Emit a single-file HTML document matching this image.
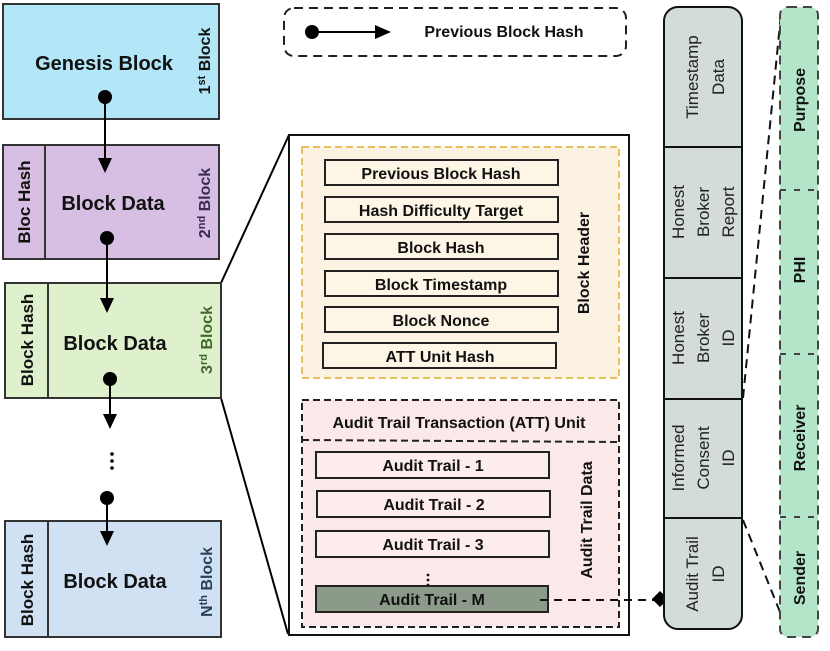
<!DOCTYPE html>
<html><head><meta charset="utf-8"><style>
html,body{margin:0;padding:0;background:#fff}
svg text{font-family:"Liberation Sans",sans-serif;font-weight:bold;fill:#111}
svg text.n{font-weight:normal;fill:#222}
</style></head><body>
<svg width="830" height="646" viewBox="0 0 830 646" xmlns="http://www.w3.org/2000/svg">
<!-- legend -->
<rect x="284" y="8" width="342" height="48" rx="10" fill="#fff" stroke="#222" stroke-width="2" stroke-dasharray="9,6"/>
<circle cx="312" cy="32" r="7" fill="#000"/>
<line x1="312" y1="32" x2="380" y2="32" stroke="#000" stroke-width="2"/>
<path d="M375,25 L391,32 L375,39 Z" fill="#000"/>
<text x="504" y="37" font-size="16" text-anchor="middle">Previous Block Hash</text>

<!-- connectors to panel -->
<line x1="221" y1="283" x2="289" y2="135" stroke="#000" stroke-width="2"/>
<line x1="221" y1="398" x2="288" y2="634" stroke="#000" stroke-width="2"/>

<!-- Genesis -->
<rect x="3" y="4" width="216" height="115" fill="#b3e6f6" stroke="#333" stroke-width="2"/>
<text x="104" y="70" font-size="20" text-anchor="middle">Genesis Block</text>
<text transform="translate(210,61) rotate(-90)" font-size="16" text-anchor="middle">1<tspan font-size="11" dy="-5">st</tspan><tspan dy="5"> Block</tspan></text>

<!-- Block 2 -->
<rect x="3" y="145" width="216" height="114" fill="#d6bfe2" stroke="#333" stroke-width="2"/>
<line x1="45" y1="145" x2="45" y2="259" stroke="#333" stroke-width="2"/>
<text transform="translate(30,202) rotate(-90)" font-size="17" text-anchor="middle">Bloc Hash</text>
<text x="113" y="210" font-size="20" text-anchor="middle">Block Data</text>
<text transform="translate(210,203) rotate(-90)" font-size="16" text-anchor="middle" style="fill:#3a2a55">2<tspan font-size="11" dy="-5">nd</tspan><tspan dy="5"> Block</tspan></text>

<!-- Block 3 -->
<rect x="5" y="283" width="216" height="115" fill="#dff0cd" stroke="#333" stroke-width="2"/>
<line x1="48" y1="283" x2="48" y2="398" stroke="#333" stroke-width="2"/>
<text transform="translate(33,340) rotate(-90)" font-size="17" text-anchor="middle">Block Hash</text>
<text x="115" y="350" font-size="20" text-anchor="middle">Block Data</text>
<text transform="translate(212,340) rotate(-90)" font-size="16" text-anchor="middle" style="fill:#3f6a2a">3<tspan font-size="11" dy="-5">rd</tspan><tspan dy="5"> Block</tspan></text>

<!-- Block N -->
<rect x="5" y="521" width="216" height="116" fill="#cfe1f2" stroke="#333" stroke-width="2"/>
<line x1="48" y1="521" x2="48" y2="637" stroke="#333" stroke-width="2"/>
<text transform="translate(33,580) rotate(-90)" font-size="17" text-anchor="middle">Block Hash</text>
<text x="115" y="588" font-size="20" text-anchor="middle">Block Data</text>
<text transform="translate(212,582) rotate(-90)" font-size="16" text-anchor="middle" style="fill:#2a3f5a">N<tspan font-size="11" dy="-5">th</tspan><tspan dy="5"> Block</tspan></text>

<!-- chain arrows -->
<g fill="#000" stroke="#000" stroke-width="2">
<circle cx="105" cy="97" r="7" stroke="none"/>
<line x1="105" y1="97" x2="105" y2="162"/>
<path d="M98,158 L112,158 L105,173 Z" stroke="none"/>
<circle cx="107" cy="238" r="7" stroke="none"/>
<line x1="107" y1="238" x2="107" y2="300"/>
<path d="M100,298 L114,298 L107,313 Z" stroke="none"/>
<circle cx="110" cy="379" r="7" stroke="none"/>
<line x1="110" y1="379" x2="110" y2="418"/>
<path d="M103,414 L117,414 L110,429 Z" stroke="none"/>
<circle cx="112" cy="454" r="1.8" stroke="none"/>
<circle cx="112" cy="461" r="1.8" stroke="none"/>
<circle cx="112" cy="468" r="1.8" stroke="none"/>
<circle cx="107" cy="498" r="7" stroke="none"/>
<line x1="107" y1="498" x2="107" y2="535"/>
<path d="M100,531 L114,531 L107,546 Z" stroke="none"/>
</g>

<!-- Panel -->
<rect x="289" y="135" width="340" height="500" fill="#fff" stroke="#111" stroke-width="2"/>
<rect x="302" y="147" width="317" height="231" fill="#fbf2e1" stroke="#e8c060" stroke-width="2" stroke-dasharray="7,4"/>
<g font-size="16" text-anchor="middle">
<rect x="325" y="160" width="233" height="25" fill="#fdf6e6" stroke="#222" stroke-width="2"/><text x="441" y="179">Previous Block Hash</text>
<rect x="325" y="197" width="233" height="25" fill="#fdf6e6" stroke="#222" stroke-width="2"/><text x="441" y="216">Hash Difficulty Target</text>
<rect x="325" y="234" width="233" height="25" fill="#fdf6e6" stroke="#222" stroke-width="2"/><text x="441" y="253">Block Hash</text>
<rect x="325" y="271" width="233" height="25" fill="#fdf6e6" stroke="#222" stroke-width="2"/><text x="441" y="290">Block Timestamp</text>
<rect x="325" y="307" width="233" height="25" fill="#fdf6e6" stroke="#222" stroke-width="2"/><text x="441" y="326">Block Nonce</text>
<rect x="323" y="343" width="233" height="25" fill="#fdf6e6" stroke="#222" stroke-width="2"/><text x="440" y="362">ATT Unit Hash</text>
</g>
<text transform="translate(589,263) rotate(-90)" font-size="16" text-anchor="middle">Block Header</text>

<rect x="302" y="400" width="317" height="227" fill="#fbe8e8" stroke="#222" stroke-width="2" stroke-dasharray="7,4"/>
<line x1="302" y1="440" x2="619" y2="442" stroke="#222" stroke-width="2" stroke-dasharray="7,4"/>
<text x="459" y="428" font-size="16" text-anchor="middle">Audit Trail Transaction (ATT) Unit</text>
<g font-size="16" text-anchor="middle">
<rect x="316" y="452" width="233" height="26" fill="#fcecec" stroke="#222" stroke-width="2"/><text x="433" y="471">Audit Trail - 1</text>
<rect x="317" y="491" width="233" height="26" fill="#fcecec" stroke="#222" stroke-width="2"/><text x="434" y="510">Audit Trail - 2</text>
<rect x="316" y="531" width="233" height="26" fill="#fcecec" stroke="#222" stroke-width="2"/><text x="433" y="550">Audit Trail - 3</text>
<rect x="316" y="586" width="232" height="26" fill="#8b9a89" stroke="#222" stroke-width="2"/><text x="432" y="605">Audit Trail - M</text>
</g>
<g fill="#111"><circle cx="428" cy="575" r="1.4"/><circle cx="428" cy="580" r="1.4"/><circle cx="428" cy="585" r="1.4"/></g>
<text transform="translate(592,520) rotate(-90)" font-size="16" text-anchor="middle">Audit Trail Data</text>

<line x1="540" y1="600" x2="656" y2="600" stroke="#111" stroke-width="2" stroke-dasharray="8,6"/>
<path d="M652,599 L660,591 L668,599 L660,607 Z" fill="#000"/>

<!-- gray column -->
<rect x="664" y="7" width="78" height="622" rx="14" fill="#d3dcd6" stroke="#111" stroke-width="2"/>
<g stroke="#111" stroke-width="2">
<line x1="664" y1="147" x2="742" y2="147"/><line x1="664" y1="278" x2="742" y2="278"/>
<line x1="664" y1="399" x2="742" y2="399"/><line x1="664" y1="518" x2="742" y2="518"/>
</g>
<g font-size="17" text-anchor="middle">
<text class="n" transform="translate(703,77) rotate(-90)"><tspan x="0" dy="-5">Timestamp</tspan><tspan x="0" dy="26">Data</tspan></text>
<text class="n" transform="translate(703,212) rotate(-90)"><tspan x="0" dy="-19">Honest</tspan><tspan x="0" dy="25">Broker</tspan><tspan x="0" dy="25">Report</tspan></text>
<text class="n" transform="translate(703,338) rotate(-90)"><tspan x="0" dy="-19">Honest</tspan><tspan x="0" dy="25">Broker</tspan><tspan x="0" dy="25">ID</tspan></text>
<text class="n" transform="translate(703,458) rotate(-90)"><tspan x="0" dy="-19">Informed</tspan><tspan x="0" dy="25">Consent</tspan><tspan x="0" dy="25">ID</tspan></text>
<text class="n" transform="translate(703,574) rotate(-90)"><tspan x="0" dy="-5">Audit Trail</tspan><tspan x="0" dy="26">ID</tspan></text>
</g>

<!-- green column -->
<line x1="743" y1="398" x2="781" y2="14" stroke="#111" stroke-width="2" stroke-dasharray="9,6"/>
<line x1="743" y1="520" x2="780" y2="612" stroke="#111" stroke-width="2" stroke-dasharray="9,6"/>
<rect x="780" y="7" width="38" height="630" rx="8" fill="#b3e6c9" stroke="#444" stroke-width="2" stroke-dasharray="9,6"/>
<g stroke="#444" stroke-width="2" stroke-dasharray="6,8">
<line x1="780" y1="190" x2="818" y2="190"/><line x1="780" y1="354" x2="818" y2="354"/><line x1="780" y1="517" x2="818" y2="517"/>
</g>
<g font-size="16" text-anchor="middle">
<text transform="translate(805,100) rotate(-90)">Purpose</text>
<text transform="translate(805,270) rotate(-90)">PHI</text>
<text transform="translate(805,438) rotate(-90)">Receiver</text>
<text transform="translate(805,578) rotate(-90)">Sender</text>
</g>
</svg>
</body></html>
